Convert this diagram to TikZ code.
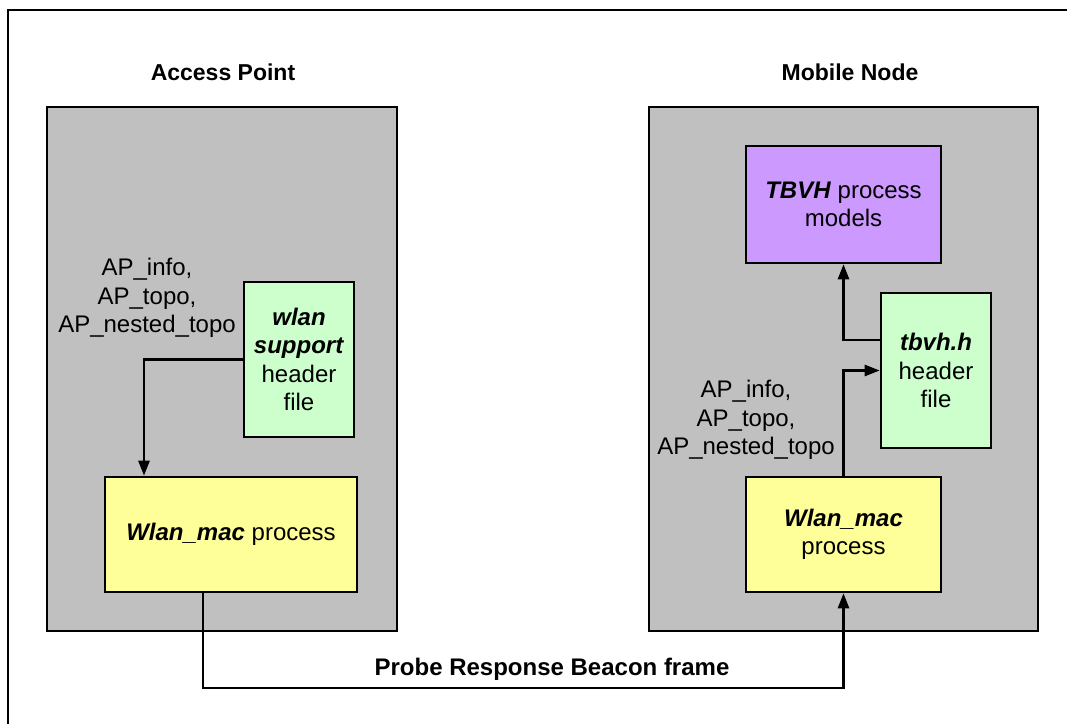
\documentclass[tikz,border=0pt]{standalone}
\usepackage{fontspec}
\setmainfont{Liberation Sans}
\usetikzlibrary{arrows.meta}

\begin{document}
\begin{tikzpicture}[x=1pt, y=-1pt,
    every node/.style={font=\fontsize{24}{28.5}\selectfont, align=center, inner sep=0pt},
    host/.style={draw, line width=2.6pt, fill={rgb,255:red,192;green,192;blue,192}},
    proc/.style={draw, line width=2.6pt, fill={rgb,255:red,255;green,255;blue,153}},
    hfile/.style={draw, line width=2.6pt, fill={rgb,255:red,204;green,255;blue,204}},
    model/.style={draw, line width=2.6pt, fill={rgb,255:red,204;green,153;blue,255}},
    title/.style={font=\fontsize{23}{27}\selectfont\bfseries},
    link/.style={line width=2.6pt, -{Triangle[length=15pt,width=11pt]}}]
    \useasboundingbox (0,0) rectangle (1067,723);

    % Frame
    \draw[line width=2.6pt] (8,10) rectangle (1090,745);

    % Hosts
    \node[title] (aptitle) at (223,72) {Access Point};
    \node[title] (mntitle) at (850,72) {Mobile Node};
    \node[host, minimum width=350pt, minimum height=524pt] (ap) at (222,369) {};
    \node[host, minimum width=389pt, minimum height=524pt] (mn) at (843.5,369) {};

    % Access point side
    \node[hfile, minimum width=110pt, minimum height=155pt] (wlansup) at (299,359.5)
        {\textbf{\textit{wlan}}\\\textbf{\textit{support}}\\header\\file};
    \node[proc, minimum width=252pt, minimum height=115pt] (apmac) at (231,534.5)
        {\textbf{\textit{Wlan\_mac}} process};
    \node (apvars) at (147,298) {AP\_info,\\AP\_topo,\\AP\_nested\_topo};

    % Mobile node side
    \node[model, minimum width=195pt, minimum height=117pt] (tbvhproc) at (843.5,204.5)
        {\textbf{\textit{TBVH}} process\\models};
    \node[hfile, minimum width=110pt, minimum height=155pt] (tbvhh) at (936,370.5)
        {\textbf{\textit{tbvh.h}}\\header\\file};
    \node[proc, minimum width=195pt, minimum height=115pt] (mnmac) at (843.5,534.5)
        {\textbf{\textit{Wlan\_mac}}\\process};
    \node (mnvars) at (746,420) {AP\_info,\\AP\_topo,\\AP\_nested\_topo};

    % Links
    \draw[link] (wlansup.west) -| ([xshift=-87pt]apmac.north);
    \draw[link] (mnmac.north) |- (tbvhh.west);
    \draw[link] ([yshift=30.5pt]tbvhh.west) -| (tbvhproc.south);
    \coordinate (air) at (0,688);
    \draw[link] ([xshift=-28pt]apmac.south) |- (air -| mnmac.south) -- (mnmac.south);
    \node[font=\fontsize{24}{29}\selectfont\bfseries] (beacon) at (552,669) {Probe Response Beacon frame};
\end{tikzpicture}
\end{document}
